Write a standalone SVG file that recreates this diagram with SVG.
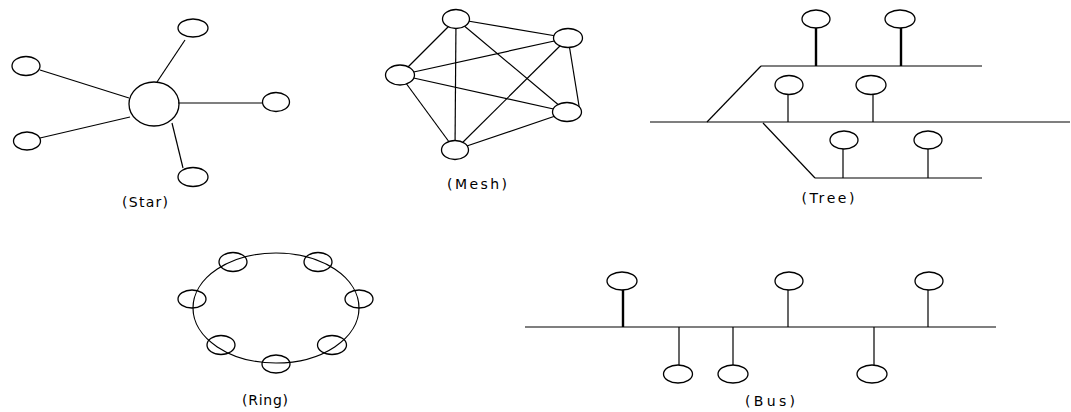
<svg xmlns="http://www.w3.org/2000/svg" width="1071" height="412" viewBox="0 0 1071 412">
  <style>
    .node { fill: none; stroke: #000; stroke-width: 1.3; }
    .solid { fill: #fff; }
    .link { stroke: #000; stroke-width: 1.2; fill: none; }
    .thick { stroke: #000; stroke-width: 2.4; fill: none; }
    .cap { font-family: "DejaVu Sans", sans-serif; font-size: 14px; fill: #000; text-anchor: middle; }
  </style>
  <rect width="1071" height="412" fill="#fff"/>

  <!-- Star topology -->
  <g id="star-links" class="links">
    <line class="link" x1="185" y1="40" x2="157" y2="82"/>
    <line class="link" x1="40" y1="70" x2="129" y2="98"/>
    <line class="link" x1="40" y1="138" x2="130" y2="117"/>
    <line class="link" x1="178" y1="103" x2="262" y2="103"/>
    <line class="link" x1="172" y1="123" x2="183" y2="168"/>
  </g>
  <g id="star-hub"><ellipse class="node" cx="154" cy="104" rx="25" ry="22"/></g>
  <g id="star-n1"><ellipse class="node" cx="193" cy="28" rx="15" ry="9"/></g>
  <g id="star-n2"><ellipse class="node" cx="26" cy="66" rx="14" ry="9.5"/></g>
  <g id="star-n3"><ellipse class="node" cx="27" cy="141" rx="13.5" ry="9"/></g>
  <g id="star-n4"><ellipse class="node" cx="276" cy="102" rx="13.5" ry="9.5"/></g>
  <g id="star-n5"><ellipse class="node" cx="193" cy="177" rx="15" ry="9.5"/></g>
  <text class="cap" x="145" y="207" textLength="46" lengthAdjust="spacing">(Star)</text>

  <!-- Mesh topology: every node linked to every other -->
  <g id="mesh-links" class="links">
    <line class="link" x1="456" y1="19" x2="568" y2="38"/>
    <line class="link" x1="456" y1="19" x2="400" y2="75"/>
    <line class="link" x1="456" y1="19" x2="455" y2="150"/>
    <line class="link" x1="456" y1="19" x2="567" y2="112"/>
    <line class="link" x1="400" y1="75" x2="568" y2="38"/>
    <line class="link" x1="400" y1="75" x2="567" y2="112"/>
    <line class="link" x1="400" y1="75" x2="455" y2="150"/>
    <line class="link" x1="568" y1="38" x2="580" y2="112"/>
    <line class="link" x1="568" y1="38" x2="455" y2="150"/>
    <line class="link" x1="567" y1="112" x2="455" y2="150"/>
  </g>
  <g id="mesh-n1"><ellipse class="node solid" cx="456" cy="19" rx="13.5" ry="9.5"/></g>
  <g id="mesh-n2"><ellipse class="node solid" cx="568" cy="38" rx="14.5" ry="9.5"/></g>
  <g id="mesh-n3"><ellipse class="node solid" cx="400" cy="75" rx="14.5" ry="10"/></g>
  <g id="mesh-n4"><ellipse class="node solid" cx="567" cy="112" rx="14.5" ry="9.5"/></g>
  <g id="mesh-n5"><ellipse class="node solid" cx="455" cy="150" rx="13.5" ry="9.5"/></g>
  <text class="cap" x="477" y="189" textLength="60" lengthAdjust="spacing">(Mesh)</text>

  <!-- Tree topology -->
  <g id="tree-links" class="links">
    <line class="link" x1="650" y1="122" x2="1070" y2="122"/>
    <line class="link" x1="761" y1="66" x2="982" y2="66"/>
    <line class="link" x1="761" y1="66" x2="707" y2="122"/>
    <line class="link" x1="763" y1="123" x2="815" y2="178"/>
    <line class="link" x1="815" y1="178" x2="982" y2="178"/>
    <line class="thick" x1="816" y1="28" x2="816" y2="66"/>
    <line class="thick" x1="901" y1="28" x2="901" y2="66"/>
    <line class="link" x1="788" y1="95" x2="788" y2="122"/>
    <line class="link" x1="873" y1="95" x2="873" y2="122"/>
    <line class="link" x1="843" y1="149" x2="843" y2="178"/>
    <line class="link" x1="928" y1="149" x2="928" y2="178"/>
  </g>
  <g id="tree-n1"><ellipse class="node" cx="816" cy="19" rx="14" ry="9"/></g>
  <g id="tree-n2"><ellipse class="node" cx="900" cy="19" rx="15" ry="9"/></g>
  <g id="tree-n3"><ellipse class="node" cx="789" cy="85" rx="14" ry="9.5"/></g>
  <g id="tree-n4"><ellipse class="node" cx="871" cy="85" rx="15" ry="9.5"/></g>
  <g id="tree-n5"><ellipse class="node" cx="844" cy="140" rx="14" ry="9"/></g>
  <g id="tree-n6"><ellipse class="node" cx="928" cy="140" rx="14" ry="9"/></g>
  <text class="cap" x="828" y="203" textLength="53" lengthAdjust="spacing">(Tree)</text>

  <!-- Ring topology -->
  <g id="ring-links" class="links">
    <ellipse class="link" cx="276" cy="308" rx="83" ry="55"/>
  </g>
  <g id="ring-n1"><ellipse class="node" cx="233" cy="262" rx="14" ry="9.5"/></g>
  <g id="ring-n2"><ellipse class="node" cx="318" cy="262" rx="14" ry="9.5"/></g>
  <g id="ring-n3"><ellipse class="node" cx="192" cy="299" rx="14" ry="9"/></g>
  <g id="ring-n4"><ellipse class="node" cx="359" cy="299" rx="14" ry="9"/></g>
  <g id="ring-n5"><ellipse class="node" cx="221" cy="345" rx="14" ry="9.5"/></g>
  <g id="ring-n6"><ellipse class="node" cx="332" cy="345" rx="14.5" ry="9.5"/></g>
  <g id="ring-n7"><ellipse class="node" cx="276" cy="364" rx="14" ry="9"/></g>
  <text class="cap" x="265" y="405" textLength="46" lengthAdjust="spacing">(Ring)</text>

  <!-- Bus topology -->
  <g id="bus-links" class="links">
    <line class="link" x1="525" y1="327" x2="996" y2="327"/>
    <line class="thick" x1="623" y1="290" x2="623" y2="327"/>
    <line class="link" x1="788" y1="290" x2="788" y2="327"/>
    <line class="link" x1="928" y1="290" x2="928" y2="327"/>
    <line class="link" x1="679" y1="327" x2="679" y2="365"/>
    <line class="link" x1="733" y1="327" x2="733" y2="365"/>
    <line class="link" x1="874" y1="327" x2="874" y2="365"/>
  </g>
  <g id="bus-n1"><ellipse class="node" cx="622" cy="281" rx="15" ry="9"/></g>
  <g id="bus-n2"><ellipse class="node" cx="789" cy="281" rx="14" ry="9"/></g>
  <g id="bus-n3"><ellipse class="node" cx="929" cy="281" rx="14" ry="9"/></g>
  <g id="bus-n4"><ellipse class="node" cx="678" cy="374" rx="14.5" ry="9"/></g>
  <g id="bus-n5"><ellipse class="node" cx="733" cy="374" rx="15" ry="9"/></g>
  <g id="bus-n6"><ellipse class="node" cx="872" cy="374" rx="15" ry="9"/></g>
  <text class="cap" x="770" y="406" textLength="50" lengthAdjust="spacing">(Bus)</text>
</svg>
